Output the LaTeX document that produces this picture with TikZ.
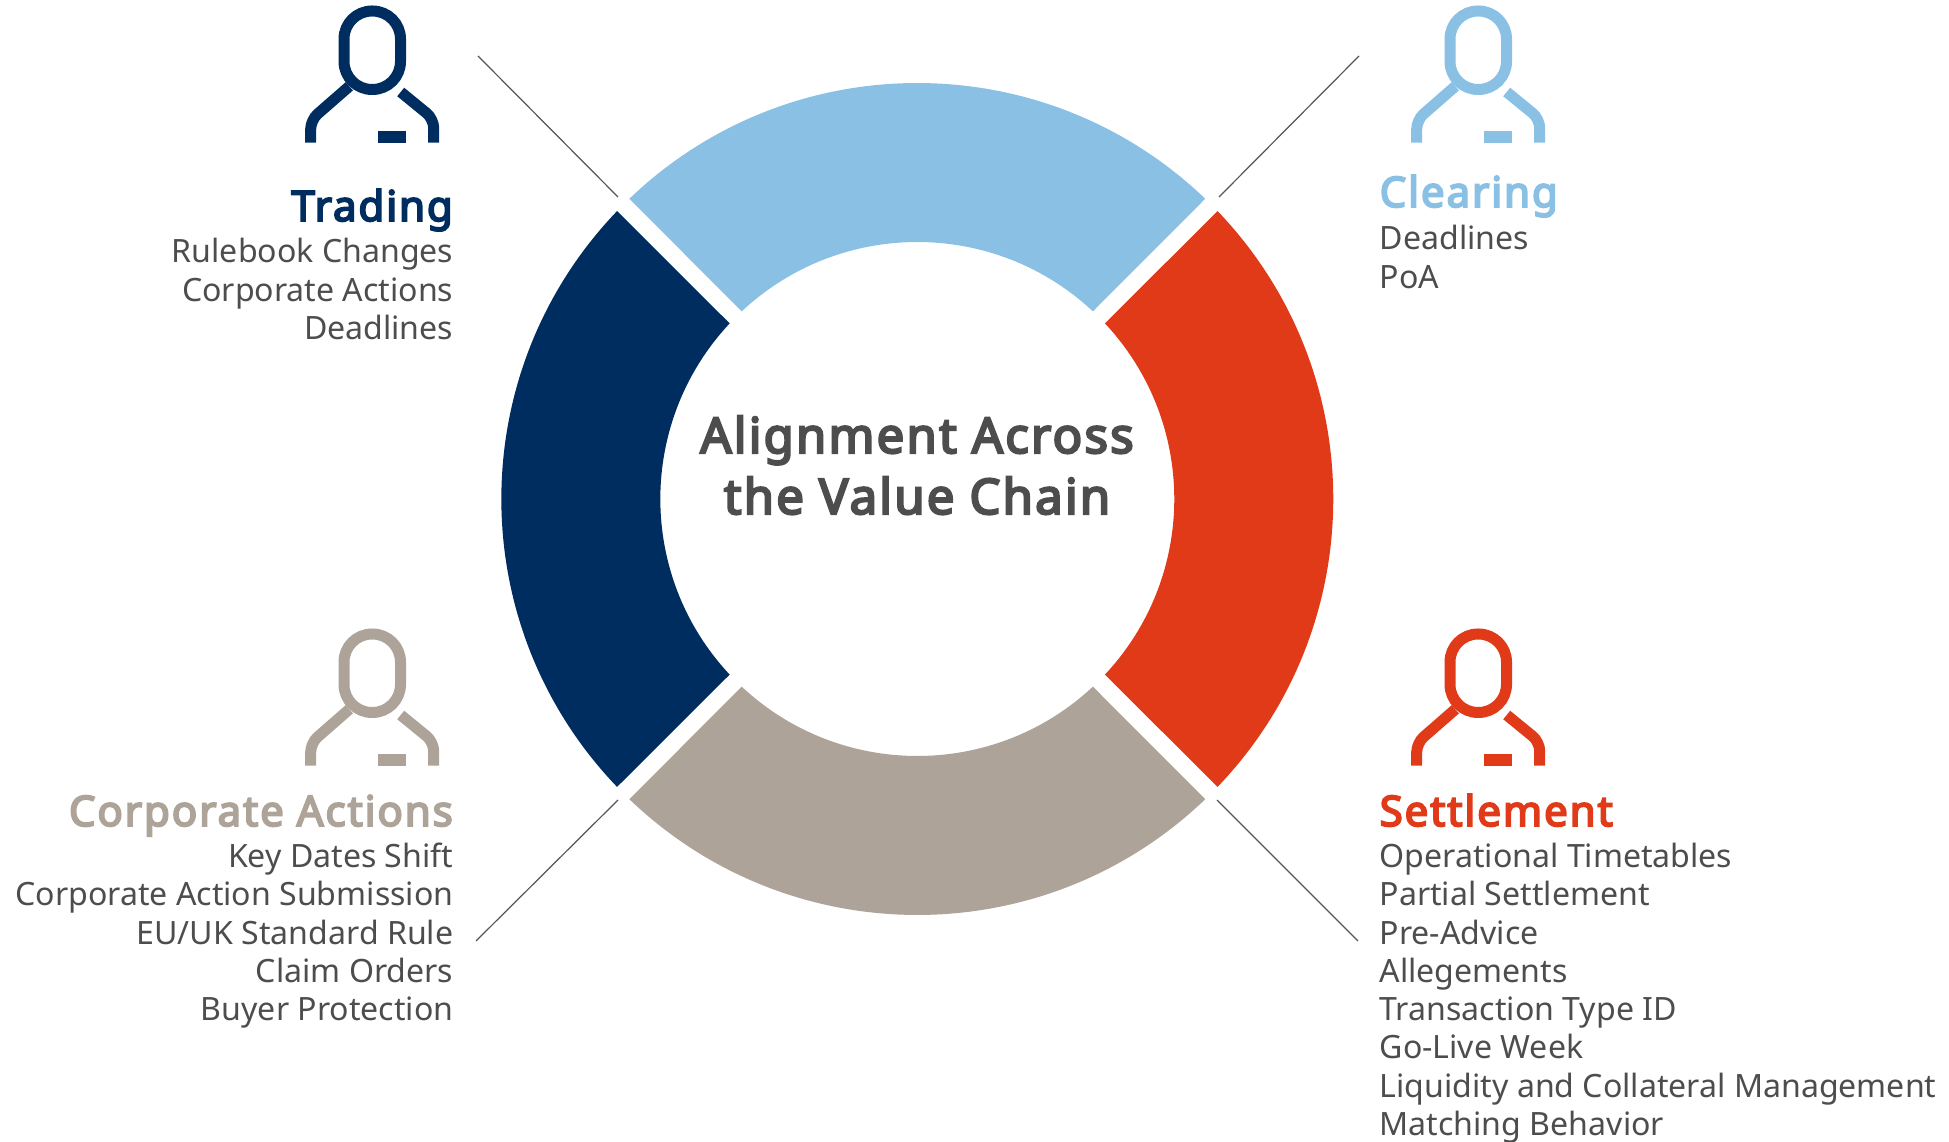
\documentclass[tikz,border=0pt]{standalone}
\usetikzlibrary{calc}
\usepackage{fontspec}
\setmainfont{Noto Sans}
\newfontfamily\heavyface{Noto Sans}[FakeBold=4.5,LetterSpace=4.6]
\definecolor{navy}{HTML}{002D5F}
\definecolor{sky}{HTML}{89C0E4}
\definecolor{flame}{HTML}{E03A18}
\definecolor{taupe}{HTML}{ADA398}
\definecolor{ink}{HTML}{4D4D4D}
\definecolor{rulegray}{HTML}{555555}
\newcommand{\lst}[2]{\begin{tabular}[t]{@{}#1@{}}#2\end{tabular}}
\tikzset{
  bodytext/.style={inner sep=0pt,text=ink,font=\fontsize{32.1}{38.3}\selectfont},
  headtext/.style={inner sep=0pt,font=\heavyface\fontsize{42}{48}\selectfont},
  titletext/.style={inner sep=0pt,text=ink,font=\heavyface\fontsize{49}{61}\selectfont},
  diag/.style={draw=rulegray,line width=1.2pt},
  pics/person/.style={code={
    \begin{scope}[yscale=-1,draw=#1,line width=11pt]
      \draw[rounded corners=28pt] (344,11) rectangle (400.5,89.5);
      \draw[rounded corners=9pt,line cap=butt] (349.3,86.3) -- (310.7,120) -- (310.7,142.7);
      \draw[rounded corners=9pt,line cap=butt] (400.7,92) -- (433.7,119) -- (433.7,142.7);
      \fill[#1,draw=none] (378,131) rectangle (406,142.7);
    \end{scope}
  }}
}
\begin{document}
\begin{tikzpicture}[x=1pt,y=1pt]
\useasboundingbox (0,0) rectangle (1949,1141);
\clip (0,0) rectangle (1949,1141);
\coordinate (c) at (917.3,642);
\def\Ro{416}\def\Ri{257}\def\dO{1.2}\def\dI{1.9}
% ring segments
\fill[sky]   ($(c)+(45+\dO:\Ro)$) arc[start angle=45+\dO,end angle=135-\dO,radius=\Ro] -- ($(c)+(135-\dI:\Ri)$) arc[start angle=135-\dI,end angle=45+\dI,radius=\Ri] -- cycle;
\fill[navy]  ($(c)+(135+\dO:\Ro)$) arc[start angle=135+\dO,end angle=225-\dO,radius=\Ro] -- ($(c)+(225-\dI:\Ri)$) arc[start angle=225-\dI,end angle=135+\dI,radius=\Ri] -- cycle;
\fill[taupe] ($(c)+(225+\dO:\Ro)$) arc[start angle=225+\dO,end angle=315-\dO,radius=\Ro] -- ($(c)+(315-\dI:\Ri)$) arc[start angle=315-\dI,end angle=225+\dI,radius=\Ri] -- cycle;
\fill[flame] ($(c)+(-45+\dO:\Ro)$) arc[start angle=-45+\dO,end angle=45-\dO,radius=\Ro] -- ($(c)+(45-\dI:\Ri)$) arc[start angle=45-\dI,end angle=-45+\dI,radius=\Ri] -- cycle;
% diagonals
\coordinate (a1) at (478,1085); \coordinate (a2) at (618,944);
\coordinate (b1) at (1359,1085); \coordinate (b2) at (1219,944);
\coordinate (d1) at (476,200); \coordinate (d2) at (618,341);
\coordinate (e1) at (1358,200); \coordinate (e2) at (1217,341);
\draw[diag] (a1) -- (a2);
\draw[diag] (b1) -- (b2);
\draw[diag] (d1) -- (d2);
\draw[diag] (e1) -- (e2);
% icons
\pic (p1) at (0,1141) {person=navy};
\pic (p2) at (1106,1141) {person=sky};
\pic (p3) at (0,518) {person=taupe};
\pic (p4) at (1106,518) {person=flame};
% title
\node[titletext,anchor=base] (t) at (917,688) {\lst{c}{Alignment Across\\the Value Chain}};
% blocks
\node[headtext,text=navy,anchor=base east] (h1) at (453,1141-221) {Trading};
\node[bodytext,anchor=base east] (l1) at (453.5,1141-263) {\lst{r}{Rulebook Changes\\Corporate Actions\\Deadlines}};
\node[headtext,text=sky,anchor=base west] (h2) at (1379.5,1141-207) {Clearing};
\node[bodytext,anchor=base west] (l2) at (1379.5,1141-250) {\lst{l}{Deadlines\\PoA}};
\node[headtext,text=taupe,anchor=base east] (h3) at (453,1141-826) {Corporate Actions};
\node[bodytext,anchor=base east] (l3) at (453.5,1141-867.5) {\lst{r}{Key Dates Shift\\Corporate Action Submission\\EU/UK Standard Rule\\Claim Orders\\Buyer Protection}};
\node[headtext,text=flame,anchor=base west] (h4) at (1379.5,1141-826) {Settlement};
\node[bodytext,anchor=base west] (l4) at (1379.5,1141-867.5) {\lst{l}{Operational Timetables\\Partial Settlement\\Pre-Advice\\Allegements\\Transaction Type ID\\Go-Live Week\\Liquidity and Collateral Management\\Matching Behavior}};
\end{tikzpicture}
\end{document}
